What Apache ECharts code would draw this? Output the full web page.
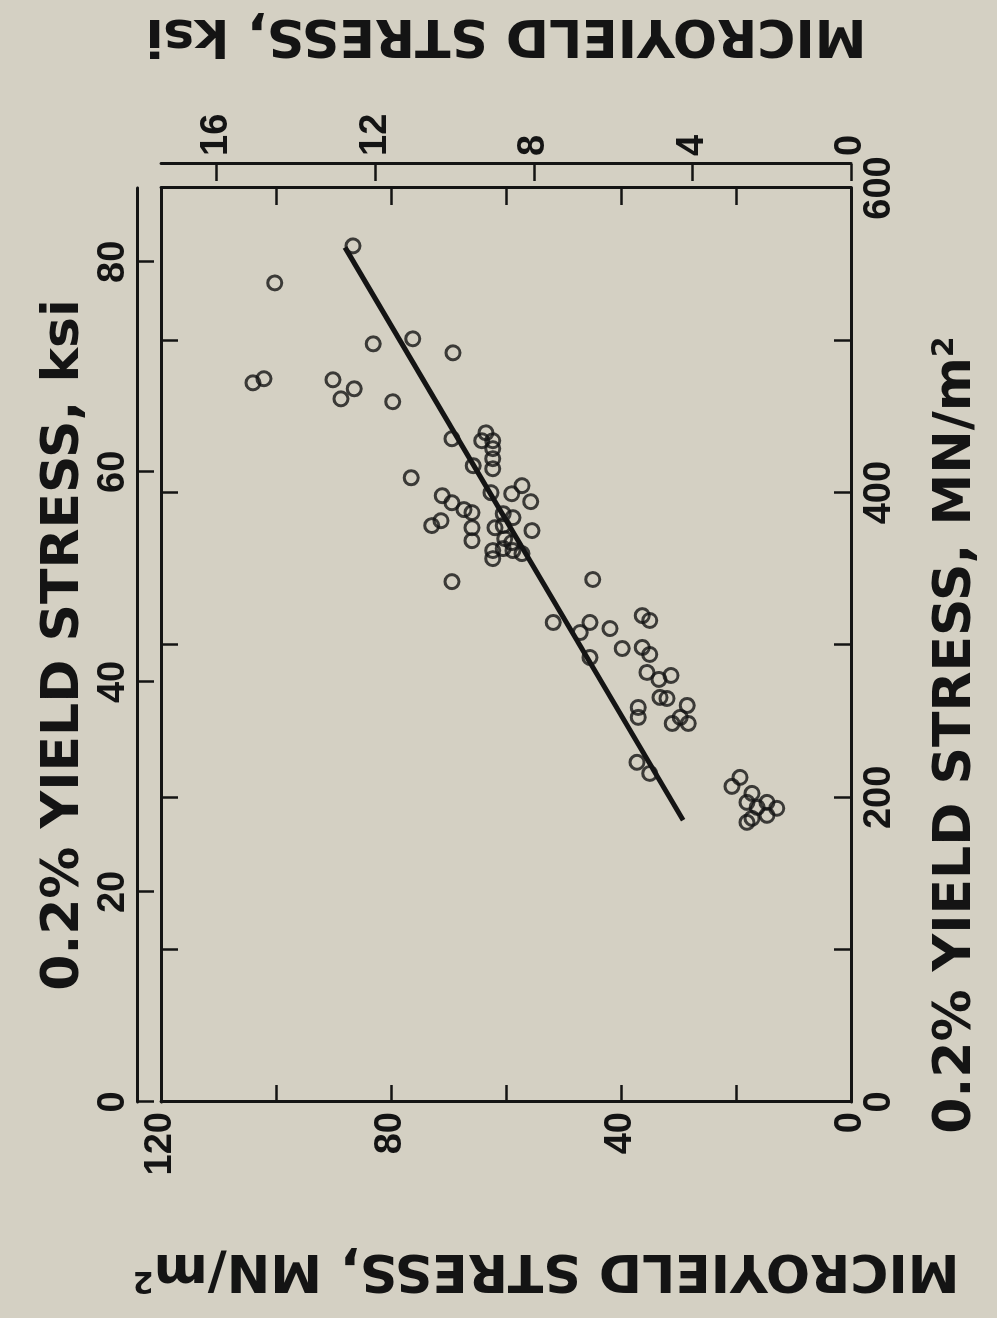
<!DOCTYPE html>
<html>
<head>
<meta charset="utf-8">
<title>Microyield stress vs 0.2% yield stress</title>
<script src="https://cdn.jsdelivr.net/npm/echarts@6/dist/echarts.min.js"></script>
<style>
  html, body { margin: 0; padding: 0; width: 997px; height: 1318px; overflow: hidden; background: #d4d0c3; }
  /* the figure is printed sideways: draw it upright, then turn it a quarter turn counter-clockwise */
  #chart {
    position: absolute; left: 0; top: 0;
    width: 1318px; height: 997px;
    transform-origin: 0 0;
    transform: translate(0, 1318px) rotate(-90deg);
  }
</style>
</head>
<body>
<div id="chart"></div>
<script>
// 0.2% yield stress, MN/m2
const yieldMN = [562.0, 537.7, 497.7, 501.0, 491.8, 472.1, 474.8, 474.1, 468.2, 461.6,
  459.7, 435.4, 439.3, 434.1, 434.1, 428.9, 422.3, 415.7, 417.7, 409.8,
  400.0, 404.6, 399.3, 394.1, 398.0, 393.4, 388.9, 386.9, 377.0, 368.5,
  378.4, 381.6, 386.2, 383.6, 377.0, 378.4, 375.1, 369.8, 367.2, 362.0,
  356.7, 363.3, 362.0, 360.0, 341.6, 343.0, 314.8, 314.8, 310.8, 308.2,
  291.8, 297.7, 319.3, 316.1, 298.4, 293.8, 282.0, 277.4, 280.0, 265.6,
  264.9, 259.0, 252.5, 260.3, 252.5, 248.5, 248.5, 223.0, 215.7, 213.1,
  207.2, 202.6, 196.7, 193.4, 196.7, 192.8, 188.2, 186.2, 183.6];
// microyield stress, MN/m2
const microMN = [86.6, 100.2, 83.1, 76.2, 69.2, 104.0, 102.1, 90.1, 86.4, 88.7,
  79.7, 69.4, 63.5, 64.2, 62.3, 62.3, 62.3, 62.3, 65.7, 76.5,
  62.6, 57.2, 59.0, 55.7, 71.1, 69.4, 67.3, 65.9, 65.9, 65.9,
  72.9, 71.3, 60.5, 58.8, 61.9, 60.5, 55.5, 60.2, 59.0, 62.3,
  62.3, 60.5, 58.8, 57.2, 69.4, 44.9, 51.8, 45.4, 41.9, 47.1,
  45.4, 39.8, 36.3, 35.0, 36.3, 35.0, 35.5, 33.4, 31.3, 33.2,
  32.0, 37.0, 37.0, 28.5, 29.7, 28.3, 31.1, 37.2, 35.0, 19.3,
  20.7, 17.2, 18.1, 16.3, 14.6, 12.9, 14.6, 17.2, 18.1];
// fitted line ends
const fitYieldMN = [185, 561];
const fitMicroMN = [29.2, 88.0];

const yieldKsiTicks = [0, 20, 40, 60, 80];
const microKsiTicks = [0, 4, 8, 12, 16];
const yieldMNLabels = [0, 200, 400, 600];
const microMNLabels = [0, 40, 80, 120];

const KSI = 6.89476; // MN/m2 in one ksi
const ink = "#141414";
const titleFont = "DejaVu Sans";
const numFont = "Liberation Sans";

const chart = echarts.init(document.getElementById("chart"));

const line = { onZero: false, lineStyle: { color: ink, width: 3 } };
const tick = { inside: true, length: 17, lineStyle: { color: ink, width: 2.5 } };
const numLabel = { color: ink, fontFamily: numFont, fontWeight: "bold", fontSize: 38 };
const nameStyle = {
  color: ink, fontFamily: titleFont, fontWeight: "bold", fontSize: 52,
  rich: {
    sup: { color: ink, fontFamily: titleFont, fontWeight: "bold", fontSize: 30, verticalAlign: "top" }
  }
};

const points = yieldMN.map((v, i) => [v, microMN[i]]);
const fit = fitYieldMN.map((v, i) => [v, fitMicroMN[i]]);

chart.setOption({
  backgroundColor: "#d4d0c3",
  animation: false,
  grid: { left: 216, right: 187, top: 161, bottom: 146, containLabel: false },
  xAxis: [
    {
      // bottom: 0.2% yield stress, MN/m2
      type: "value", position: "bottom", min: 0, max: 600, interval: 100,
      name: "0.2% YIELD STRESS, MN/m{sup|2}", nameLocation: "middle", nameGap: 79,
      nameTextStyle: Object.assign({ padding: [0, 180, 0, 0] }, nameStyle),
      axisLine: line, axisTick: tick, splitLine: { show: false },
      axisLabel: Object.assign({ margin: 10, customValues: yieldMNLabels,
        formatter: v => (v % 200 === 0 ? v : "") }, numLabel)
    },
    {
      // frame top, mirror of the MN ticks
      type: "value", position: "top", offset: 0, min: 0, max: 600, interval: 100,
      axisLine: line, axisTick: tick, axisLabel: { show: false }, splitLine: { show: false }
    },
    {
      // outer top: 0.2% yield stress, ksi
      type: "value", position: "top", offset: 24, min: 0, max: 600 / KSI, interval: 20,
      name: "0.2% YIELD STRESS, ksi", nameLocation: "middle", nameGap: 31,
      nameTextStyle: nameStyle,
      axisLine: line,
      axisTick: Object.assign({ customValues: yieldKsiTicks }, tick),
      splitLine: { show: false },
      axisLabel: Object.assign({ margin: 4, customValues: yieldKsiTicks,
        formatter: v => (v % 20 === 0 ? v : "") }, numLabel)
    }
  ],
  yAxis: [
    {
      // left: microyield stress, MN/m2
      type: "value", position: "left", min: 0, max: 120, interval: 20,
      name: "MICROYIELD STRESS, MN/m{sup|2}", nameLocation: "middle", nameGap: 141, nameRotate: 90,
      nameTextStyle: Object.assign({ padding: [0, 80, 0, 0] }, nameStyle),
      axisLine: line, axisTick: tick, splitLine: { show: false },
      axisLabel: Object.assign({ margin: 10, customValues: microMNLabels,
        formatter: v => (v % 40 === 0 ? v : "") }, numLabel)
    },
    {
      // frame right, mirror of the MN ticks
      type: "value", position: "right", offset: 0, min: 0, max: 120, interval: 20,
      axisLine: line, axisTick: tick, axisLabel: { show: false }, splitLine: { show: false }
    },
    {
      // outer right: microyield stress, ksi
      type: "value", position: "right", offset: 24, min: 0, max: 120 / KSI, interval: 4,
      name: "MICROYIELD STRESS, ksi", nameLocation: "middle", nameGap: 104, nameRotate: 90,
      nameTextStyle: nameStyle,
      axisLine: line,
      axisTick: Object.assign({ customValues: microKsiTicks }, tick),
      splitLine: { show: false },
      axisLabel: Object.assign({ margin: 8, customValues: microKsiTicks,
        formatter: v => (v % 4 === 0 ? v : "") }, numLabel)
    }
  ],
  series: [
    {
      type: "line",
      xAxisIndex: 0,
      yAxisIndex: 0,
      data: fit,
      symbol: "none",
      silent: true,
      lineStyle: { color: ink, width: 5 }
    },
    {
      type: "scatter",
      xAxisIndex: 0,
      yAxisIndex: 0,
      data: points,
      symbol: "circle",
      symbolSize: 14,
      silent: true,
      itemStyle: { color: "rgba(0,0,0,0)", borderColor: ink, borderWidth: 3 }
    }
  ]
});
</script>
</body>
</html>
